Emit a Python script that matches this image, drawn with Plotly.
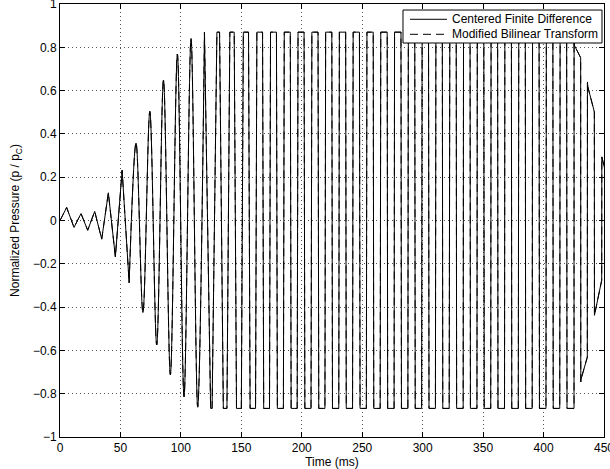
import plotly.graph_objects as go

# ---- data ----
# growing (unclipped) part: extrema times (ms) and values
early_t = [0.0, 5.5, 11.6, 17.4, 22.9, 28.7, 34.5, 40.0, 45.8, 51.4, 57.2]
early_p = [0.0, 0.060, -0.032, 0.032, -0.045, 0.042, -0.086, 0.128, -0.168, 0.232,
           -0.288]
grow_t = [57.2, 62.9, 68.6, 74.3, 80.0, 85.6, 91.3, 97.1, 102.6, 108.4, 113.9, 119.5]
grow_p = [-0.288, 0.358, -0.425, 0.504, -0.575, 0.649, -0.713, 0.769, -0.814,
          0.840, -0.862, 0.869]

# saturated (clipped) part
clip_high = 0.870
clip_low = -0.868
top_centers = [130.9, 142.3, 153.8, 165.2, 176.6, 188.0, 199.4, 210.9, 222.3,
               233.7, 245.1, 256.5, 268.0, 279.4, 290.8, 302.2, 313.6, 325.1,
               336.5, 347.9, 359.3, 370.7, 382.2, 393.6, 405.0, 416.4]
top_widths = [2.2, 3.6, 4.3, 4.7, 4.9, 5.0, 5.0, 5.1, 5.1, 5.2, 5.2, 5.2, 5.3,
              5.3, 5.3, 5.3, 5.3, 5.3, 5.4, 5.4, 5.4, 5.4, 5.4, 5.4, 5.4, 5.4]
bottom_centers = [125.2, 136.6, 148.0, 159.5, 170.9, 182.3, 193.7, 205.1, 216.6,
                  228.0, 239.4, 250.8, 262.2, 273.7, 285.1, 296.5, 307.9, 319.3,
                  330.8, 342.2, 353.6, 365.0, 376.4, 387.9, 399.3, 410.7, 422.3]
bottom_widths = [1.2, 3.0, 4.0, 4.5, 4.8, 5.0, 5.0, 5.1, 5.1, 5.2, 5.2, 5.2, 5.3,
                 5.3, 5.3, 5.3, 5.3, 5.3, 5.4, 5.4, 5.4, 5.4, 5.4, 5.4, 5.4, 5.4,
                 5.8]

# decaying tail after ~425 ms
tail_t = [425.25, 425.4, 430.7, 430.8, 430.9, 436.2, 436.3, 436.6, 442.0,
          442.1, 448.1, 448.2, 453.5]
tail_p = [0.870, 0.810, 0.752, -0.745, -0.735, -0.631, 0.640, 0.618, 0.502,
          -0.438, -0.276, 0.294, 0.171]

x_ticks = [0, 50, 100, 150, 200, 250, 300, 350, 400, 450]
y_ticks = [-1, -0.8, -0.6, -0.4, -0.2, 0, 0.2, 0.4, 0.6, 0.8, 1]
y_ticktext = ["\u22121", "\u22120.8", "\u22120.6", "\u22120.4", "\u22120.2", "0",
              "0.2", "0.4", "0.6", "0.8", "1"]

series_names = ["Centered Finite Difference", "Modified Bilinear Transform"]

# ---- build clipped path from the flats ----
halves = []
for c, w in zip(top_centers, top_widths):
    halves.append((c, w, clip_high))
for c, w in zip(bottom_centers, bottom_widths):
    halves.append((c, w, clip_low))
halves.sort()
clip_t = [grow_t[-1]]
clip_p = [grow_p[-1]]
for c, w, lev in halves:
    clip_t += [c - w / 2, c + w / 2]
    clip_p += [lev, lev]
clip_t += tail_t
clip_p += tail_p

DASH = "8px,5px"
fig = go.Figure()
styles = [dict(color="black", width=1), dict(color="black", width=1, dash=DASH)]
for name, st in zip(series_names, styles):
    fig.add_trace(go.Scatter(x=early_t, y=early_p, mode="lines",
                             line=dict(shape="linear", **st), legendgroup=name,
                             showlegend=False, hoverinfo="skip"))
    fig.add_trace(go.Scatter(x=grow_t, y=grow_p, mode="lines",
                             line=dict(shape="spline", **st), legendgroup=name,
                             showlegend=False, hoverinfo="skip"))
    fig.add_trace(go.Scatter(x=clip_t, y=clip_p, mode="lines", name=name,
                             line=dict(shape="linear", **st), legendgroup=name,
                             showlegend=False, hoverinfo="skip"))

font = dict(family="Liberation Sans, Arial, Helvetica, sans-serif", size=12, color="black")
axis_common = dict(showline=True, linecolor="black", linewidth=1, mirror="allticks",
                   ticks="inside", ticklen=5, tickcolor="black", tickwidth=1,
                   showgrid=True, gridcolor="#555", griddash="1px,3px", gridwidth=1,
                   zeroline=False, automargin=False, tickfont=font,
                   ticklabeloverflow="allow")

# ---- manual legend box (MATLAB style, compact) ----
box_x0, box_x1, box_y0, box_y1 = 0.6305, 0.9963, 0.9099, 0.9861
row_y = [0.9647, 0.930]
line_x0, line_x1, text_x = 0.6434, 0.7114, 0.7169
shapes = [dict(type="rect", xref="paper", yref="paper", x0=box_x0, x1=box_x1,
               y0=box_y0, y1=box_y1, line=dict(color="black", width=1),
               fillcolor="white", layer="above")]
annotations = []
for name, st, yy in zip(series_names, styles, row_y):
    shapes.append(dict(type="line", xref="paper", yref="paper", x0=line_x0, x1=line_x1,
                       y0=yy, y1=yy, line=dict(st), layer="above"))
    annotations.append(dict(xref="paper", yref="paper", x=text_x, y=yy, text=name,
                            showarrow=False, xanchor="left", yanchor="middle",
                            font=font))

fig.update_layout(
    width=610, height=469,
    margin=dict(l=60, r=6, t=4, b=32),
    paper_bgcolor="white", plot_bgcolor="white",
    font=font,
    showlegend=False,
    hovermode=False,
    shapes=shapes,
    annotations=annotations,
    xaxis=dict(range=[0, 450], tickvals=x_ticks, ticktext=[str(v) for v in x_ticks],
               title=dict(text="Time (ms)", font=font, standoff=0), **axis_common),
    yaxis=dict(range=[-1, 1], tickvals=y_ticks, ticktext=y_ticktext,
               title=dict(text="Normalized Pressure (p / p<sub>C</sub>)", font=font, standoff=10),
               **axis_common),
)

fig.write_html("out.html", config={"displayModeBar": False},
               post_script="document.body.style.margin='0';document.body.style.overflow='hidden';")
